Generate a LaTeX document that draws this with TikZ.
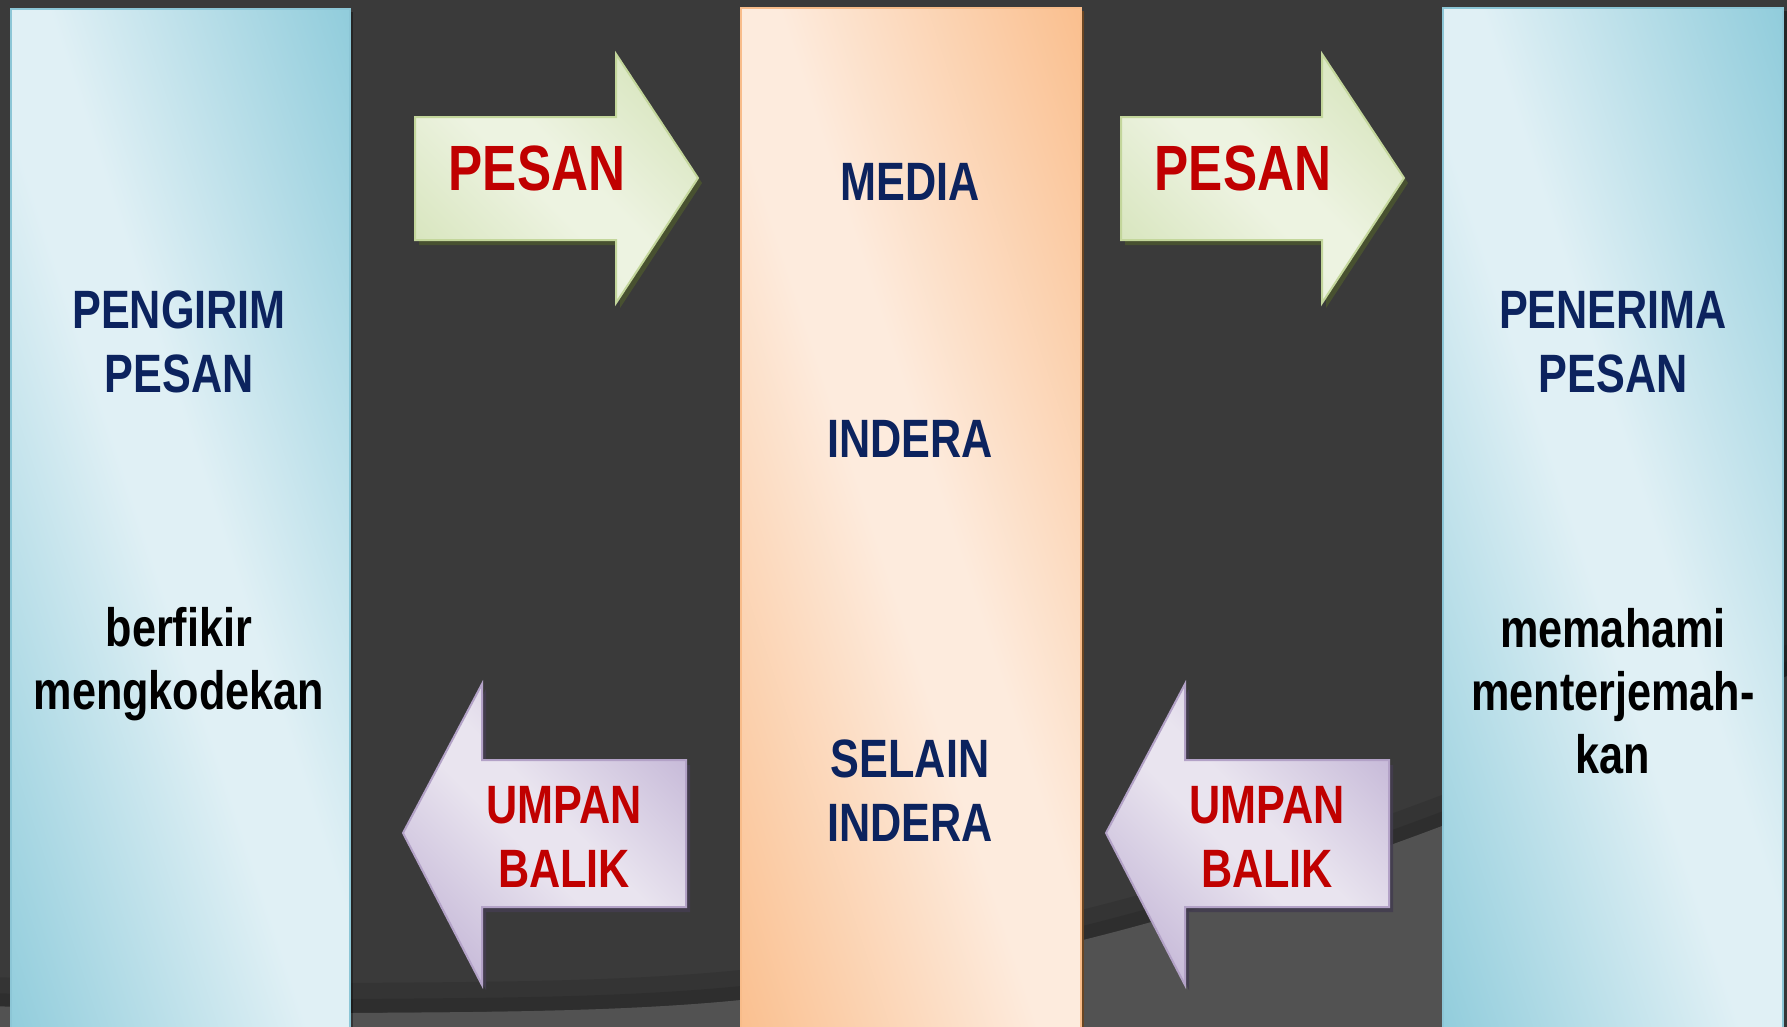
\documentclass[tikz,border=0pt]{standalone}
\usepackage{fontspec}
\newfontfamily\nf[FakeStretch=0.8]{Liberation Sans}
\definecolor{bgdark}{HTML}{3A3A3A}
\definecolor{bggrey}{HTML}{525252}
\definecolor{bluelight}{HTML}{E0F0F5}
\definecolor{bluedark}{HTML}{92CDDC}
\definecolor{blueedge}{HTML}{8CC6D6}
\definecolor{orangelight}{HTML}{FDEBDD}
\definecolor{orangedark}{HTML}{FAC090}
\definecolor{orangeedge}{HTML}{F8BC8A}
\definecolor{greenlight}{HTML}{EDF3E1}
\definecolor{greendark}{HTML}{D3E2B6}
\definecolor{greenedge}{HTML}{C3D69B}
\definecolor{greenshadow}{HTML}{4A5430}
\definecolor{purplelight}{HTML}{E9E4EF}
\definecolor{purpledark}{HTML}{BDAED2}
\definecolor{purpleedge}{HTML}{B3A2C7}
\definecolor{purpleshadow}{HTML}{433D4F}
\definecolor{navytext}{HTML}{0C235E}
\definecolor{redtext}{HTML}{C00000}
\definecolor{brownshadow}{HTML}{6A4522}
\pgfdeclareverticalshading{blueshd}{100bp}{color(0bp)=(bluedark); color(15bp)=(bluedark); color(46bp)=(bluelight); color(54bp)=(bluelight); color(85bp)=(bluedark); color(100bp)=(bluedark)}
\pgfdeclareverticalshading{orangeshd}{100bp}{color(0bp)=(orangedark); color(15bp)=(orangedark); color(46bp)=(orangelight); color(54bp)=(orangelight); color(85bp)=(orangedark); color(100bp)=(orangedark)}
\pgfdeclareverticalshading{greenshd}{100bp}{color(0bp)=(greendark); color(17bp)=(greendark); color(46bp)=(greenlight); color(54bp)=(greenlight); color(83bp)=(greendark); color(100bp)=(greendark)}
\pgfdeclareverticalshading{purpleshd}{100bp}{color(0bp)=(purpledark); color(17bp)=(purpledark); color(46bp)=(purplelight); color(54bp)=(purplelight); color(83bp)=(purpledark); color(100bp)=(purpledark)}
\tikzset{
  panelframe/.style={rectangle, inner sep=0pt, anchor=north west, line width=1.5pt},
  blueshade/.style={shading=blueshd, shading angle=-45},
  orangeshade/.style={shading=orangeshd, shading angle=-45},
  greenarrow/.style={draw=greenedge, line width=2pt, line join=miter, shading=greenshd, shading angle=-45},
  purplearrow/.style={draw=purpleedge, line width=2pt, line join=miter, shading=purpleshd, shading angle=-45},
  lbl/.style={anchor=base, inner sep=0pt, font=\nf\bfseries\fontsize{54}{60}\selectfont},
  bigl/.style={anchor=base, inner sep=0pt, font=\nf\bfseries\fontsize{64}{70}\selectfont, text=redtext},
  navylbl/.style={lbl, text=navytext},
  blacklbl/.style={lbl, text=black},
  redlbl/.style={lbl, text=redtext},
}
\begin{document}
\begin{tikzpicture}[x=1pt,y=-1pt]
\useasboundingbox (0,0) rectangle (1787,1026);
\clip (0,0) rectangle (1787,1026);
% background
\fill[bgdark] (0,0) rectangle (1787,1026);
\draw[black, opacity=0.10, line width=30pt] plot[smooth, tension=0.6] coordinates {(-10,992) (351,998) (741,985) (1083,925) (1442,811) (1800,655)};
\draw[black, opacity=0.10, line width=14pt] plot[smooth, tension=0.6] coordinates {(-10,1000) (351,1006) (741,993) (1083,933) (1442,819) (1800,663)};
\fill[bggrey] plot[smooth, tension=0.6] coordinates {(-10,1006) (351,1013) (741,1000) (1083,940) (1442,826) (1800,670)} -- (1800,1040) -- (-10,1040) -- cycle;
% panel shadows
\fill[black, opacity=0.35] (14,12) rectangle (353,1040);
\fill[brownshadow] (744,11) rectangle (1084,1040);
\fill[black, opacity=0.35] (1446,11) rectangle (1787,1040);
% panel fills (shading stretched with the panel)
\shade[blueshade, transform canvas={shift={(10,8)}, xscale=3.39, yscale=10.3}] (0,0) rectangle (100,100);
\shade[orangeshade, transform canvas={shift={(740,7)}, xscale=3.40, yscale=10.3}] (0,0) rectangle (100,100);
\shade[blueshade, transform canvas={shift={(1442,7)}, xscale=3.40, yscale=10.3}] (0,0) rectangle (100,100);
% panel frames
\node[panelframe, draw=blueedge, minimum width=339pt, minimum height=1030pt] (sender) at (10,8) {};
\node[panelframe, draw=orangeedge, minimum width=340pt, minimum height=1030pt] (media) at (740,7) {};
\node[panelframe, draw=blueedge, minimum width=340pt, minimum height=1030pt] (receiver) at (1442,7) {};
% arrow shadows
\fill[greenshadow, opacity=0.9] (419,122) -- (620,122) -- (620,59) -- (702,183) -- (620,308) -- (620,245) -- (419,245) -- cycle;
\fill[greenshadow, opacity=0.9] (1125,122) -- (1326,122) -- (1326,59) -- (1408,183) -- (1326,308) -- (1326,245) -- (1125,245) -- cycle;
\fill[purpleshadow, opacity=0.9] (407,838) -- (486,689) -- (486,765) -- (690,765) -- (690,912) -- (486,912) -- (486,990) -- cycle;
\fill[purpleshadow, opacity=0.9] (1110,838) -- (1189,689) -- (1189,765) -- (1393,765) -- (1393,912) -- (1189,912) -- (1189,990) -- cycle;
% arrows
\path[greenarrow] (415,117) -- (616,117) -- (616,54) -- (698,178) -- (616,303) -- (616,240) -- (415,240) -- cycle;
\path[greenarrow] (1121,117) -- (1322,117) -- (1322,54) -- (1404,178) -- (1322,303) -- (1322,240) -- (1121,240) -- cycle;
\path[purplearrow] (403,833) -- (482,684) -- (482,760) -- (686,760) -- (686,907) -- (482,907) -- (482,985) -- cycle;
\path[purplearrow] (1106,833) -- (1185,684) -- (1185,760) -- (1389,760) -- (1389,907) -- (1185,907) -- (1185,985) -- cycle;
% sender texts
\node[navylbl] (s1) at (179,328) {PENGIRIM};
\node[navylbl] (s2) at (179,392) {PESAN};
\node[blacklbl] (s3) at (179,646) {berfikir};
\node[blacklbl] (s4) at (179,709) {mengkodekan};
% media texts
\node[navylbl] (m1) at (910,200) {MEDIA};
\node[navylbl] (m2) at (910,457) {INDERA};
\node[navylbl] (m3) at (910,777) {SELAIN};
\node[navylbl] (m4) at (910,841) {INDERA};
% receiver texts
\node[navylbl] (r1) at (1613,328) {PENERIMA};
\node[navylbl] (r2) at (1613,392) {PESAN};
\node[blacklbl] (r3) at (1613,647) {memahami};
\node[blacklbl] (r4) at (1613,710) {menterjemah-};
\node[blacklbl] (r5) at (1613,773) {kan};
% arrow texts
\node[bigl] (p1) at (537,190) {PESAN};
\node[bigl] (p2) at (1243,190) {PESAN};
\node[redlbl] (u1) at (564,823) {UMPAN};
\node[redlbl] (u2) at (564,887) {BALIK};
\node[redlbl] (u3) at (1267,823) {UMPAN};
\node[redlbl] (u4) at (1267,887) {BALIK};
\end{tikzpicture}
\end{document}
